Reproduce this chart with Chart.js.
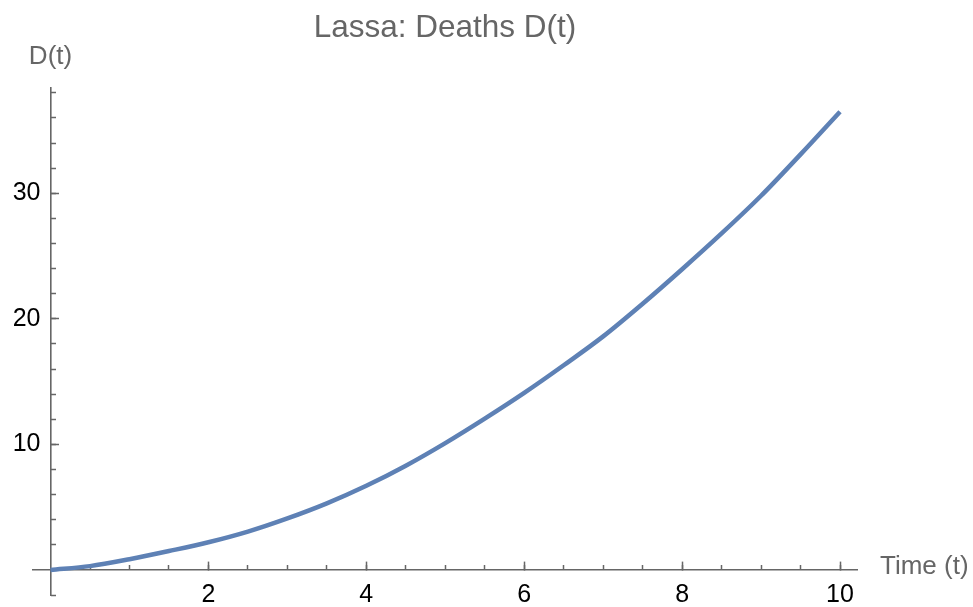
<!DOCTYPE html>
<html>
<head>
<meta charset="utf-8">
<title>Lassa: Deaths D(t)</title>
<script src="https://cdn.jsdelivr.net/npm/chart.js@4"></script>
<style>
  html, body { margin: 0; padding: 0; background: #fff; }
  canvas { display: block; }
</style>
</head>
<body>
<canvas id="deathsChart" width="973" height="607"></canvas>
<script>
// Lassa model: cumulative deaths D(t)
const tValues = [0, 0.5, 1, 1.5, 2, 2.5, 3, 3.5, 4, 4.5, 5, 5.5, 6, 6.5, 7, 7.5, 8, 8.5, 9, 9.5, 10];
const deaths = [0, 0.3, 0.85, 1.5, 2.2, 3.05, 4.1, 5.3, 6.7, 8.3, 10.1, 12.05, 14.1, 16.3, 18.6, 21.2, 23.95, 26.8, 29.8, 33.1, 36.5];

// tick positions
const xMajor = [2, 4, 6, 8, 10];
const xMinor = [0.5, 1, 1.5, 2, 2.5, 3, 3.5, 4, 4.5, 5, 5.5, 6, 6.5, 7, 7.5, 8, 8.5, 9, 9.5, 10];
const yMajor = [10, 20, 30];
const yMinor = [-2, 2, 4, 6, 8, 10, 12, 14, 16, 18, 20, 22, 24, 26, 28, 30, 32, 34, 36, 38];

const X_MIN = -0.222, X_MAX = 10.215;
const Y_MIN = -2.0, Y_MAX = 38.4;

const FONT = '"Liberation Sans", Arial, sans-serif';
const AXIS_GRAY = '#666666';
const LABEL_GRAY = '#666666';

function setTicks(list) {
  return (scale) => { scale.ticks = list.map(v => ({ value: v })); };
}

// keep edge labels from pushing the plot area inward
function noEdgePadding(scale) {
  scale.paddingTop = 0;
  scale.paddingBottom = 0;
  scale.paddingLeft = 0;
  scale.paddingRight = 0;
}

// axes cross at the origin, ticks point inward like Mathematica
function crossAxis(axis, ticks, tickLen, showLabels, drawLine) {
  const pos = axis === 'x' ? { y: 0 } : { x: 0 };
  return {
    type: 'linear',
    axis: axis,
    position: pos,
    min: axis === 'x' ? X_MIN : Y_MIN,
    max: axis === 'x' ? X_MAX : Y_MAX,
    afterBuildTicks: setTicks(ticks),
    afterFit: noEdgePadding,
    border: { display: drawLine, color: AXIS_GRAY, width: 1.6 },
    grid: {
      drawOnChartArea: false,
      drawTicks: true,
      tickLength: -tickLen,
      tickColor: AXIS_GRAY,
      tickWidth: 1.5
    },
    ticks: {
      display: showLabels,
      autoSkip: false,
      maxRotation: 0,
      padding: 19,
      color: '#000',
      font: { family: FONT, size: 25 },
      // y labels sit flush against a crossing axis, so leave a small gap
      callback: axis === 'x' ? (v) => String(v) : (v) => v + '\u2009\u2009'
    }
  };
}

const axisLabels = {
  id: 'axisLabels',
  afterDraw(chart) {
    const { ctx, chartArea, scales } = chart;
    ctx.save();
    ctx.font = '26px ' + FONT;
    ctx.fillStyle = LABEL_GRAY;
    ctx.textBaseline = 'middle';
    ctx.textAlign = 'center';
    ctx.fillText('D(t)', scales.x.getPixelForValue(0), chartArea.top - 31);
    ctx.textAlign = 'left';
    ctx.fillText('Time (t)', chartArea.right + 23, scales.y.getPixelForValue(0) - 3);
    ctx.restore();
  }
};

const ctx = document.getElementById('deathsChart');

new Chart(ctx, {
  type: 'line',
  data: {
    datasets: [{
      label: 'D(t)',
      data: tValues.map((t, i) => ({ x: t, y: deaths[i] })),
      borderColor: '#5e81b5',
      borderWidth: 4.5,
      pointRadius: 0,
      cubicInterpolationMode: 'monotone',
      fill: false,
      xAxisID: 'x',
      yAxisID: 'y'
    }]
  },
  options: {
    responsive: false,
    animation: false,
    layout: { padding: { left: 33, right: 116, top: 0, bottom: 12 } },
    plugins: {
      legend: { display: false },
      tooltip: { enabled: false },
      title: {
        display: true,
        text: 'Lassa: Deaths D(t)',
        fullSize: false,
        color: LABEL_GRAY,
        font: { family: FONT, size: 31.5, weight: 'normal' },
        padding: { top: 9, bottom: 41 }
      }
    },
    scales: {
      x: crossAxis('x', xMajor, 9, true, true),
      xMinor: crossAxis('x', xMinor, 5, false, false),
      y: crossAxis('y', yMajor, 9, true, true),
      yMinor: crossAxis('y', yMinor, 5, false, false)
    }
  },
  plugins: [axisLabels]
});
</script>
</body>
</html>
